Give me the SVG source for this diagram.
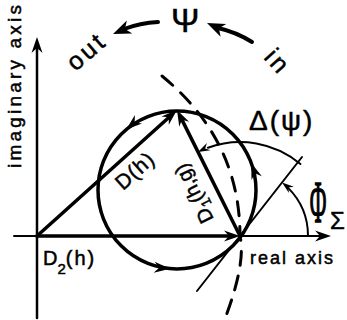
<svg xmlns="http://www.w3.org/2000/svg" xmlns:xlink="http://www.w3.org/1999/xlink" width="347" height="320" viewBox="0 0 347 320">
<style>
.ln{fill:none;stroke:#000;stroke-linecap:round}
.thick{stroke-width:3.5}
.mid{stroke-width:2.5}
.thin{stroke-width:2}
.t{font-family:"Liberation Sans",Arial,sans-serif;fill:#000;stroke:#000;stroke-width:0.5}
</style>
<defs>
<path id="hd" d="M0,0 L-16,-5.5 L-11,0 L-16,5.5 Z"/>
<path id="hs" d="M0,0 L-12,-4 L-8,0 L-12,4 Z"/>
<path id="hb" d="M0,0 L-18,-7 L-13,0 L-18,7 Z"/>
</defs>
<rect width="347" height="320" fill="#fff"/>

<g id="axes">
<line class="ln mid" x1="37" y1="318" x2="37" y2="47"/>
<use href="#hd" transform="translate(37,37) rotate(-90)"/>
<line class="ln thin" x1="14" y1="236" x2="37" y2="236" stroke-dasharray="1.5,1"/>
<line class="ln thin" x1="240" y1="236" x2="321" y2="236"/>
<use href="#hd" transform="translate(331,236)"/>
<text class="t" font-size="19" transform="translate(21,168) rotate(-90)" textLength="163" lengthAdjust="spacing">imaginary axis</text>
<text class="t" font-size="18" x="250" y="264" textLength="83" lengthAdjust="spacing">real axis</text>
</g>

<g id="circle">
<circle class="ln thick" cx="177" cy="190" r="79"/>
<use href="#hd" transform="translate(126.2,129.5) rotate(140)"/>
<use href="#hd" transform="translate(251.2,163) rotate(-110)"/>
<use href="#hd" transform="translate(170.1,268.7) rotate(5)"/>
</g>

<g id="connectors">
<line class="ln thick" x1="37" y1="236" x2="169.6" y2="116.7"/>
<use href="#hd" transform="translate(177,110) rotate(-42)"/>
<line class="ln thick" x1="240" y1="236" x2="181.5" y2="118.9"/>
<use href="#hd" transform="translate(177,110) rotate(-116.57)"/>
<line class="ln thick" x1="37" y1="236" x2="230" y2="236"/>
<use href="#hd" transform="translate(240,236)"/>
<path class="ln" stroke-width="3" stroke-dasharray="14,11" d="M162,76 Q240,140 240,236 Q246,262 226,316"/>
<line class="ln thin" x1="197" y1="291" x2="302" y2="157"/>
<path class="ln thin" d="M300.4,164 A94,94 0 0 0 207.9,147.7"/>
<use href="#hs" transform="translate(198,152) rotate(153.4)"/>
<path class="ln thin" d="M308,236 A68,68 0 0 0 288.1,187.9"/>
<use href="#hs" transform="translate(282,182.5) rotate(-141.9)"/>
</g>

<g id="labels">
<text class="t" font-size="21" transform="translate(123,191) rotate(-42)" letter-spacing="1">D(h)</text>
<text class="t" font-size="20" transform="translate(214,219) rotate(-116.57)">D<tspan font-size="14" dy="5">1</tspan><tspan dy="-5">(h,g)</tspan></text>
<text class="t" font-size="20" x="43" y="265">D<tspan font-size="15" dy="9">2</tspan><tspan dy="-9" letter-spacing="2">(h)</tspan></text>
<text class="t" font-size="28" x="249" y="130" letter-spacing="2">Δ(ψ)</text>
<text font-family="'Liberation Serif',serif" font-size="60" text-anchor="middle" stroke="#000" stroke-width="1.5" transform="translate(318,222) scale(0.38,1)">Φ</text>
<text class="t" font-size="24" x="330" y="229">Σ</text>
</g>

<g id="top">
<text class="t" font-size="34" x="171" y="32">Ψ</text>
<text class="t" font-size="25" letter-spacing="3" transform="translate(75.5,72) rotate(-41)">out</text>
<text class="t" font-size="25" letter-spacing="3" transform="translate(263,58) rotate(48)">in</text>
<path class="ln" stroke-width="4" d="M158,22 Q140,23 124,29"/>
<use href="#hb" transform="translate(113,34) rotate(157)"/>
<path class="ln" stroke-width="4" d="M252,42 Q236,32 218,28"/>
<use href="#hb" transform="translate(207,23) rotate(-156)"/>
</g>
</svg>
